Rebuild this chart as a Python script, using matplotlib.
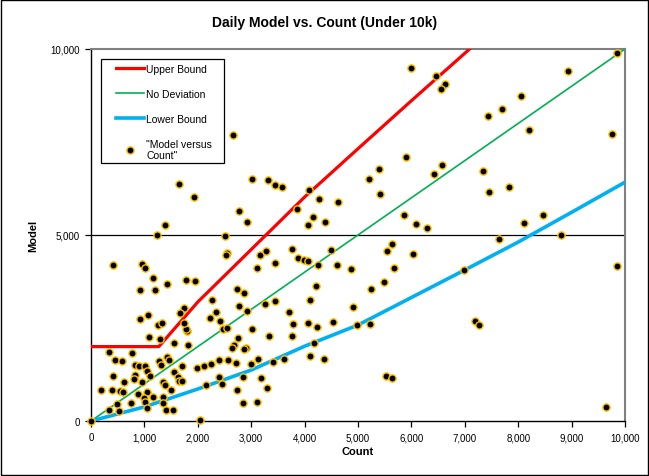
import matplotlib
matplotlib.use("Agg")
import matplotlib.pyplot as plt
from matplotlib.patches import Rectangle
from matplotlib.ticker import FuncFormatter, MultipleLocator

plt.rcParams['font.family'] = ['Liberation Sans', 'DejaVu Sans']

# daily values: (count, model)
count = [0, 340, 770, 455, 580, 1430, 1280, 1470, 1820, 1550,
         830, 890, 1020, 1310, 1700, 1050, 1100, 830, 800, 960,
         410, 620, 1340, 1380, 1550, 1620, 1650, 1710, 180, 390,
         540, 605, 875, 1040, 990, 1020, 1170, 1340, 1500, 1340,
         745, 490, 340, 530, 1050, 1400, 1540, 1090, 1290, 1790,
         1770, 1740, 1670, 1740, 1250, 1330, 920, 1060, 410, 960,
         1010, 1170, 1430, 1770, 1940, 920, 1200, 1990, 2120, 2240,
         2400, 2570, 2710, 3000, 3130, 3400, 2150, 2390, 2450, 2850,
         3180, 2730, 3300, 2850, 3110, 2040, 2480, 3020, 3330, 2670,
         2640, 2900, 2860, 2750, 2540, 2550, 2520, 3170, 3280, 3770,
         3870, 3450, 3100, 2730, 2870, 2270, 2780, 2920, 3250, 3450,
         2340, 2220, 2420, 3700, 3790, 3760, 3980, 1640, 1930, 1390,
         1240, 2510, 3020, 3310, 3450, 3570, 2770, 2920, 2650, 5900,
         5390, 5200, 5420, 6420, 6580, 4090, 4270, 4630, 3860, 4150,
         4060, 4380, 5860, 6090, 6290, 4060, 4260, 4500, 4610, 4860,
         5550, 5640, 6030, 5680, 5490, 5240, 4210, 4100, 4900, 4060,
         4230, 4530, 4980, 5230, 6980, 7190, 7270, 7340, 5990, 6460,
         6620, 6550, 9850, 8940, 8050, 7700, 7440, 8210, 9750, 7450,
         7830, 8100, 8470, 7640, 8800, 9850, 9650, 4170, 3620, 4100,
         4360, 5530, 5640]
model = [0, 1860, 1830, 1650, 1600, 1720, 1610, 1650, 2030, 2100,
         1510, 1490, 1470, 1510, 1470, 1350, 1200, 1240, 1130, 1060,
         1220, 1040, 1060, 970, 1310, 1180, 1080, 1080, 840, 820,
         810, 770, 730, 770, 610, 520, 640, 640, 840, 480,
         485, 450, 300, 280, 340, 300, 300, 2250, 2210, 2410,
         2460, 3040, 2910, 2630, 2580, 2640, 2740, 2860, 4200, 4220,
         4120, 3850, 3690, 3780, 3760, 3510, 3520, 1420, 1490, 1540,
         1640, 1640, 1550, 1540, 1670, 1580, 970, 1190, 1000, 1180,
         1150, 840, 880, 480, 520, 30, 2470, 2470, 2280, 2030,
         1960, 1960, 1940, 2230, 2490, 4510, 4450, 4450, 4560, 4630,
         4380, 4250, 4110, 3550, 3440, 3240, 3100, 2970, 3150, 3220,
         2940, 2780, 2700, 2940, 2600, 2290, 4340, 6380, 6010, 5280,
         5000, 4960, 6510, 6480, 6350, 6300, 5640, 5360, 7690, 7110,
         6780, 6500, 6110, 6650, 6890, 6220, 5970, 5890, 5700, 5480,
         5280, 5350, 5530, 5300, 5200, 4310, 4200, 4610, 4190, 4090,
         4570, 4750, 4500, 4100, 3750, 3550, 3620, 3250, 3060, 2640,
         2530, 2670, 2580, 2600, 4050, 2680, 2590, 6730, 9490, 9270,
         9070, 8920, 9880, 9400, 8740, 8380, 8200, 7810, 7710, 6160,
         6290, 5330, 5540, 4890, 5010, 4170, 380, 2090, 1660, 1750,
         1680, 1220, 1150]

upper_x = [0, 1270, 2000, 3000, 4000, 5000, 6000, 7090]
upper_y = [2000, 2000, 3200, 4610, 6020, 7320, 8610, 10000]
nodev_x = [0, 10000]
nodev_y = [0, 10000]
lower_x = [0, 500, 1000, 2000, 3000, 4000, 5000, 6000, 7000, 8000, 9000, 10000]
lower_y = [0, 190, 380, 860, 1370, 2010, 2580, 3320, 4060, 4810, 5610, 6420]

fig = plt.figure(figsize=(6.49, 4.77), dpi=100)
ax = fig.add_axes([91/649, 55/477, 534/649, 372/477])

ax.plot(upper_x, upper_y, color='#FF0000', lw=2.3, label='Upper Bound', zorder=3)
ax.plot(nodev_x, nodev_y, color='#00B050', lw=1.2, label='No Deviation', zorder=3)
ax.plot(lower_x, lower_y, color='#00B0F0', lw=2.6, label='Lower Bound', zorder=3)
ax.plot(count, model, ls='none', marker='o', ms=5.2, mfc='black', mec='#FFC000',
        mew=1.0, label='"Model versus\nCount"', zorder=4, clip_on=False)

ax.axhline(5000, color='black', lw=0.9, zorder=1)
ax.set_xlim(0, 10000)
ax.set_ylim(0, 10000)
ax.xaxis.set_major_locator(MultipleLocator(1000))
ax.yaxis.set_major_locator(MultipleLocator(5000))
fmt = FuncFormatter(lambda v, p: '{:,.0f}'.format(v))
ax.xaxis.set_major_formatter(fmt)
ax.yaxis.set_major_formatter(fmt)
ax.tick_params(labelsize=7, length=4, width=0.9, direction='out', pad=4)

for side in ['top', 'right']:
    ax.spines[side].set_color('#808080')
    ax.spines[side].set_linewidth(1.5)
for side in ['left', 'bottom']:
    ax.spines[side].set_color('black')
    ax.spines[side].set_linewidth(1.0)

ax.set_xlabel('Count', fontsize=8, fontweight='bold', labelpad=3)
ax.set_ylabel('Model', fontsize=8, fontweight='bold', labelpad=9)
fig.text(0.5, 1 - 23/477, 'Daily Model vs. Count (Under 10k)', ha='center', va='center',
         fontsize=10, fontweight='bold')

# legend without its own frame, boxed like the Excel one
leg = ax.legend(loc='upper left', bbox_to_anchor=(0.046, 0.961), fontsize=7.5,
                frameon=False, handlelength=2.7, labelspacing=1.45,
                borderpad=0, handletextpad=0.25, borderaxespad=0)
leg.set_zorder(6)
ax.add_patch(Rectangle((0.0187, 0.6935), 0.2303, 0.2796, transform=ax.transAxes,
                       facecolor='white', edgecolor='black', lw=0.9, zorder=5))

fig.patches.append(Rectangle((0.002, 0.002), 0.996, 0.995, transform=fig.transFigure,
                             fill=False, edgecolor='black', lw=1.0))

fig.savefig('out.png', dpi=100)
